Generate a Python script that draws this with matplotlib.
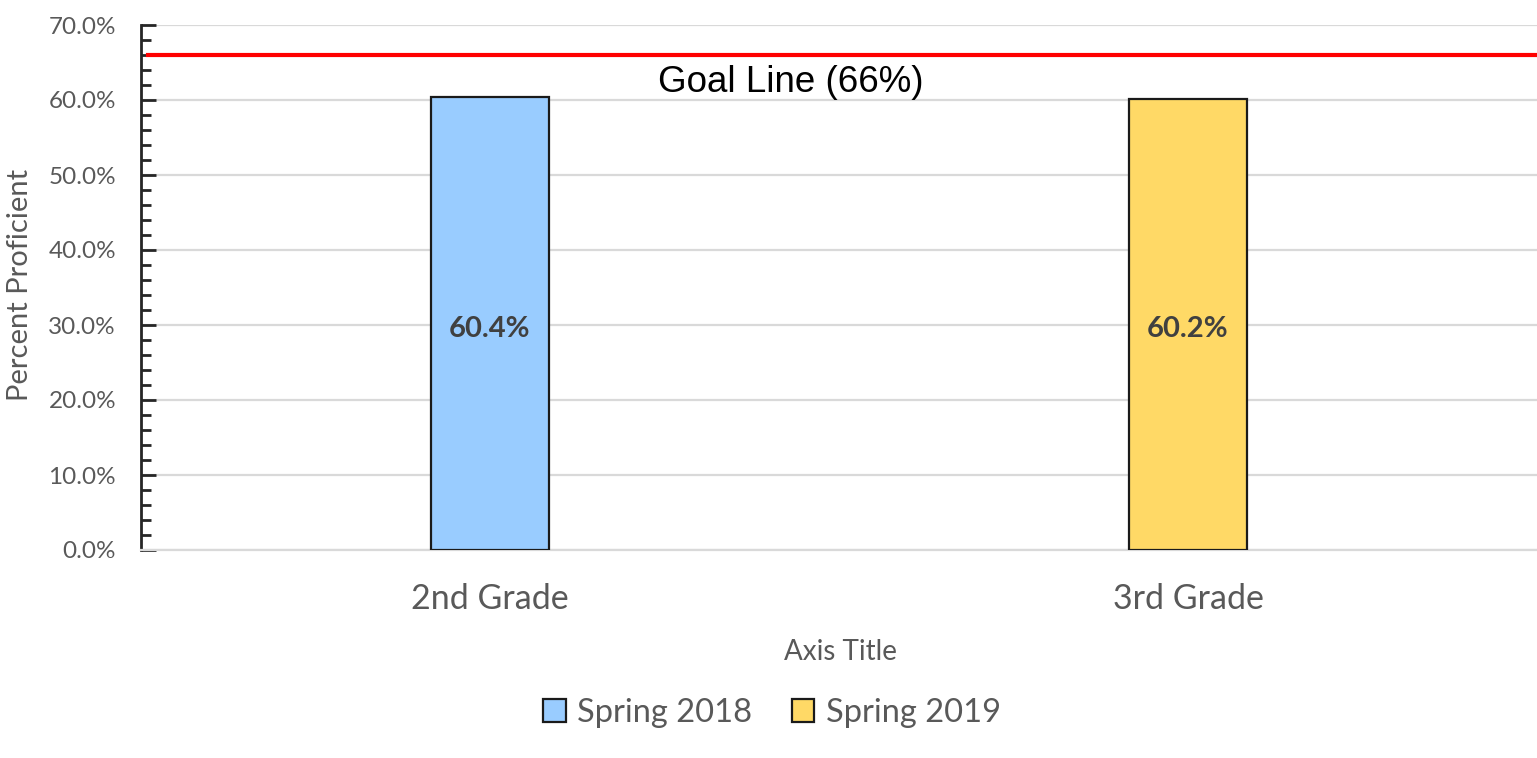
import matplotlib

matplotlib.use("Agg")
import matplotlib.pyplot as plt
import numpy as np
from matplotlib.patches import Patch
from matplotlib.ticker import MultipleLocator, PercentFormatter

categories = ["2nd Grade", "3rd Grade"]
series_names = ["Spring 2018", "Spring 2019"]
series_values = [60.4, 60.2]
series_colors = ["#99CCFF", "#FFD966"]
goal_value = 66.0
goal_label = "Goal Line (66%)"

plt.rcParams.update({"font.family": ["Lato", "DejaVu Sans"]})

fig = plt.figure(figsize=(15.37, 7.58), dpi=100)
ax = fig.add_axes([141 / 1537, 1 - 550 / 758, (1537 - 141) / 1537, 525 / 758])

x = np.arange(len(categories))
bars = ax.bar(x, series_values, width=0.17, color=series_colors, edgecolor="#1a1a1a", linewidth=1.6, zorder=3)
for bar, val in zip(bars, series_values):
    ax.text(bar.get_x() + bar.get_width() / 2, 29.5, f"{val:.1f}%", ha="center", va="center",
            fontsize=21, fontweight="bold", color="#404040", zorder=4)

ax.axhline(goal_value, color="#FF0000", lw=3, zorder=5, xmin=0.005)
ax.text((791 - 141) / 1396, goal_value - 1.3, goal_label, ha="center", va="top", fontsize=26.5,
        family=["Liberation Sans", "DejaVu Sans"], color="black", transform=ax.get_yaxis_transform())

ax.set_xlim(-0.5, 1.5)
ax.set_ylim(0, 70)
ax.yaxis.set_major_locator(MultipleLocator(10))
ax.yaxis.set_minor_locator(MultipleLocator(2))
ax.yaxis.set_major_formatter(PercentFormatter(decimals=1))
ax.set_xticks(x, categories)
ax.tick_params(axis="y", which="major", direction="in", length=11, width=2, color="#262626",
               labelsize=17.5, labelcolor="#595959", pad=18)
ax.tick_params(axis="y", which="minor", direction="in", length=7, width=2, color="#262626")
ax.tick_params(axis="x", length=0, labelsize=24.5, labelcolor="#595959", pad=24)

ax.grid(axis="y", color="#D9D9D9", linewidth=1.6, zorder=0)
ax.set_axisbelow(True)
ax.spines[["top", "right"]].set_visible(False)
ax.spines["left"].set_color("#262626")
ax.spines["left"].set_linewidth(2)
ax.spines["bottom"].set_color("#D9D9D9")
ax.spines["bottom"].set_linewidth(1.6)

fig.text(20 / 1537, 1 - 285 / 758, "Percent Proficient", rotation=90, ha="center", va="center",
         fontsize=21, color="#595959")
fig.text(840 / 1537, 1 - 652 / 758, "Axis Title", ha="center", va="center",
         fontsize=20, color="#595959")

handles = [Patch(facecolor=c, edgecolor="#1a1a1a", linewidth=1.6) for c in series_colors]
fig.legend(handles, series_names, loc="center", bbox_to_anchor=(772 / 1537, 1 - 713 / 758),
           ncol=2, frameon=False, fontsize=23.5, labelcolor="#595959", handlelength=0.7,
           handleheight=0.7, handletextpad=0.35, columnspacing=1.2)

fig.savefig("out.png", dpi=100)
